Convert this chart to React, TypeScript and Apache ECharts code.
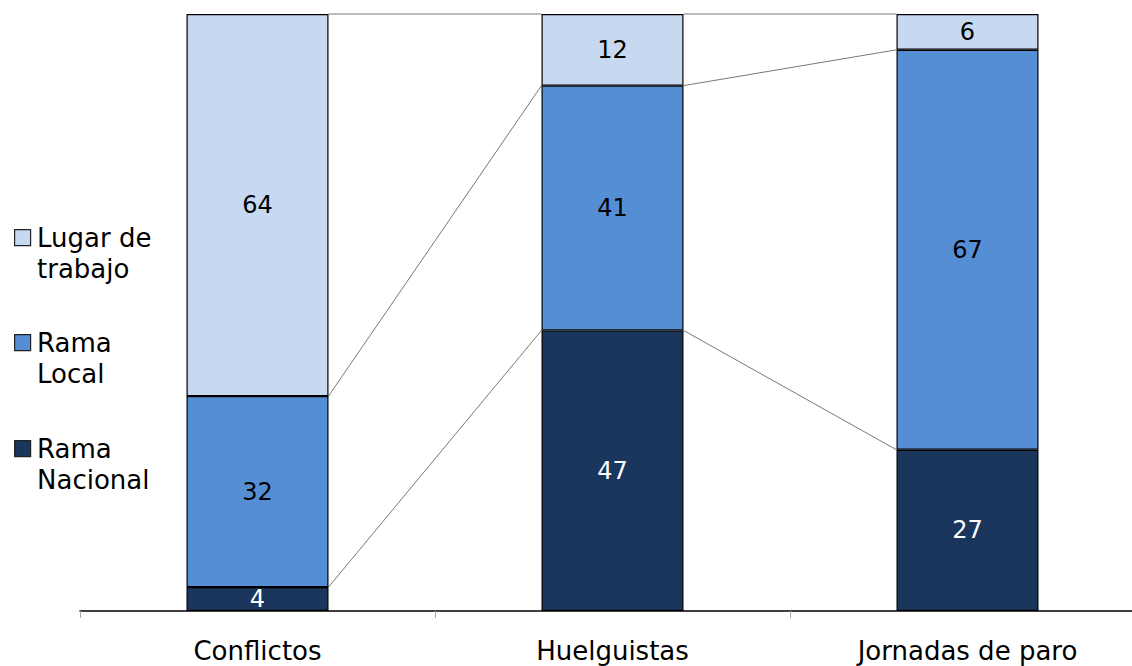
import React, { useEffect, useRef } from "react";
import * as echarts from "echarts";

const categories = ["Conflictos", "Huelguistas", "Jornadas de paro"];
const seriesNames = ["Rama Nacional", "Rama Local", "Lugar de trabajo"];
const legendLabels = ["Rama\nNacional", "Rama\nLocal", "Lugar de\ntrabajo"];
const ramaNacional = [4, 47, 27];
const ramaLocal = [32, 41, 67];
const lugarTrabajo = [64, 12, 6];
const colors = ["#1B365D", "#558ED5", "#C6D9F1"];
const labelColors = ["#ffffff", "#000000", "#000000"];

const FONT = "DejaVu Sans, Verdana, sans-serif";

export default function App() {
  const ref = useRef<HTMLDivElement>(null);
  useEffect(() => {
    if (!ref.current) return;
    const chart = echarts.init(ref.current, undefined, { renderer: "svg" });
    const values = [ramaNacional, ramaLocal, lugarTrabajo];
    const cum: number[][] = categories.map((_, i) => {
      let s = 0;
      return values.map((v) => (s += v[i]));
    });
    const lineData: number[][] = [];
    for (let i = 0; i < categories.length - 1; i++) {
      for (let k = 0; k < values.length; k++) {
        lineData.push([i, cum[i][k], cum[i + 1][k]]);
      }
    }
    const barSeries = values.map((v, k) => ({
      type: "bar",
      name: seriesNames[k],
      stack: "total",
      barWidth: "40%",
      data: v,
      itemStyle: { color: colors[k], borderColor: "#000", borderWidth: 1.2 },
      label: {
        show: true,
        position: "inside",
        fontFamily: FONT,
        fontSize: 24,
        color: labelColors[k],
      },
      z: 3,
    }));
    const legendGraphics: any[] = [];
    const legendTops = [433, 327, 222];
    for (let k = 0; k < values.length; k++) {
      legendGraphics.push({
        type: "rect",
        left: 14,
        top: legendTops[k] + 7,
        shape: { width: 16, height: 16 },
        style: { fill: colors[k], stroke: "#222", lineWidth: 1.2 },
      });
      legendGraphics.push({
        type: "text",
        left: 37,
        top: legendTops[k],
        style: {
          text: legendLabels[k],
          fontFamily: FONT,
          fontSize: 26,
          lineHeight: 31,
          fill: "#000",
        },
      });
    }
    chart.setOption({
      animation: false,
      grid: { left: 80, right: 0, top: 14, bottom: 55 },
      xAxis: {
        type: "category",
        data: categories,
        axisLine: { lineStyle: { color: "#000", width: 1.5 } },
        axisTick: { show: true, length: 7, lineStyle: { color: "#aaa" } },
        axisLabel: { fontFamily: FONT, fontSize: 26, color: "#000", margin: 27 },
      },
      yAxis: { type: "value", min: 0, max: 100, show: false, splitLine: { show: false } },
      graphic: legendGraphics,
      series: [
        ...barSeries,
        {
          type: "custom",
          data: lineData,
          encode: { x: 0, y: 1 },
          z: 1,
          silent: true,
          renderItem: (params: any, api: any) => {
            const i = api.value(0);
            const p1 = api.coord([i, api.value(1)]);
            const p2 = api.coord([i + 1, api.value(2)]);
            const half = api.size([1, 0])[0] * 0.2;
            return {
              type: "line",
              shape: { x1: p1[0] + half, y1: p1[1], x2: p2[0] - half, y2: p2[1] },
              style: { stroke: "#555", lineWidth: 0.8 },
            };
          },
        },
      ],
    });
    return () => chart.dispose();
  }, []);
  return (
    <div
      style={{ position: "fixed", left: 0, top: 0, width: 1132, height: 666, overflow: "hidden", background: "#fff" }}
    >
      <div ref={ref} style={{ width: 1145, height: 666 }} />
    </div>
  );
}
